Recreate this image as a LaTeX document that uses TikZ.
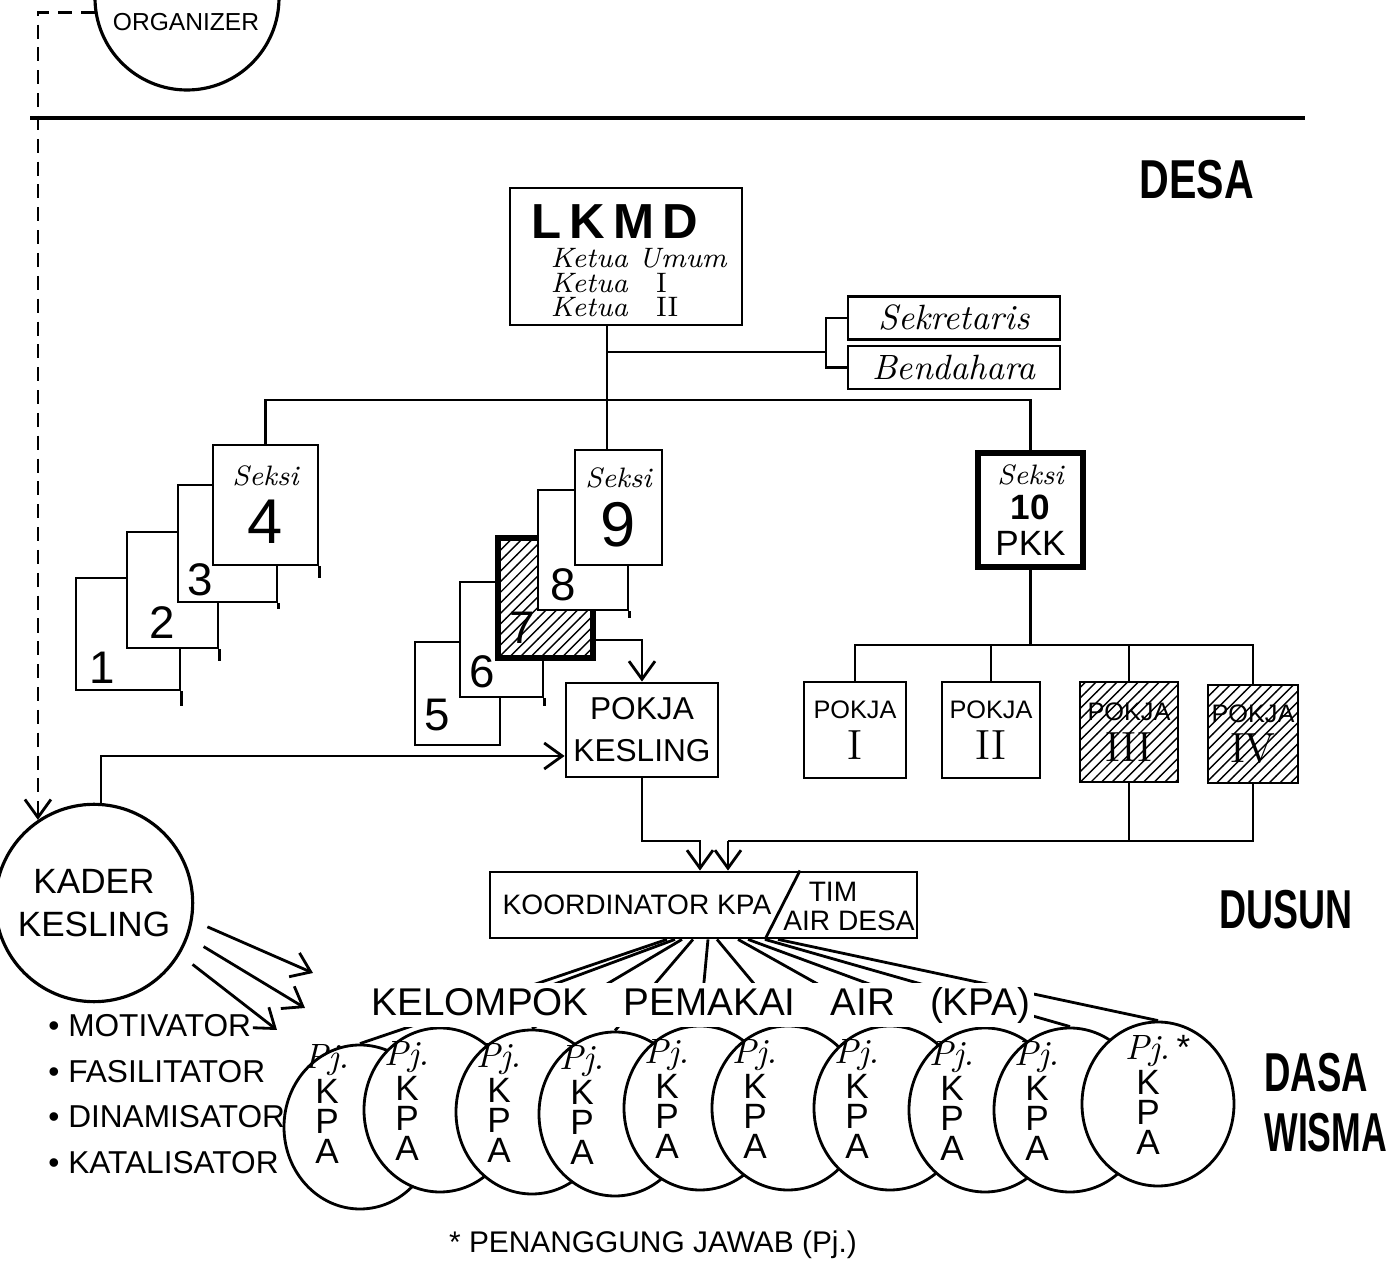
\documentclass[tikz,border=0pt]{standalone}
\usepackage{fontspec}
\setsansfont{Liberation Sans}
\usetikzlibrary{arrows.meta, positioning, shapes.geometric, patterns, calc}

\begin{document}
\begin{tikzpicture}[
    wire/.style={line width=0.8pt},
    flow/.style={wire, -{Straight Barb[length=1.8mm, width=2.6mm]}},
    box/.style={draw, line width=0.8pt, fill=white, align=center, inner sep=1pt, font=\sffamily\fontsize{7.2}{11.5}\selectfont},
    heavybox/.style={box, line width=1.6pt},
    hatchbox/.style={draw, line width=0.8pt, preaction={fill=white}, pattern=north east lines, align=center, inner sep=1pt, font=\sffamily\fontsize{7.2}{11.5}\selectfont},
    bubble/.style={circle, draw, line width=0.9pt, minimum size=1.84cm, align=center},
    kpacircle/.style={ellipse, draw, line width=0.8pt, fill=white, minimum width=1.52cm, minimum height=1.64cm},
    kpatext/.style={align=center, inner sep=0pt, font=\sffamily\fontsize{10}{8.5}\selectfont},
    digit/.style={inner sep=0pt, font=\sffamily\fontsize{13}{13}\selectfont},
    hand/.style={inner sep=0pt, font=\rmfamily\itshape\fontsize{8}{8}\selectfont},
    tag/.style={inner sep=0pt, font=\sffamily\fontsize{8}{8}\selectfont},
    level/.style={font=\sffamily\bfseries\fontsize{13}{13}\selectfont, align=left},
    caps/.style={font=\sffamily\fontsize{9}{13}\selectfont}
]
\useasboundingbox (0,0) rectangle (13.93,12.72);

\node[bubble] (org) at (1.87,12.74) {};
\node[tag, font=\sffamily\fontsize{7}{7}\selectfont] (orgname) at (1.86,12.50) {ORGANIZER};
\coordinate (divl) at (0.30,11.54);
\coordinate (divr) at (13.05,11.54);
\draw[line width=1.2pt] (divl) -- (divr);

\node[level] (desa) at (11.97,10.92) {\scalebox{0.9}[1.2]{DESA}};
\node[level] (dusun) at (12.86,3.62) {\scalebox{0.82}[1.2]{DUSUN}};
\node[level, anchor=west] (dasa) at (12.52,1.69) {\scalebox{0.8}[1.2]{DASA}\\[4pt]\scalebox{0.78}[1.2]{WISMA}};

\node[box, minimum width=2.32cm, minimum height=1.37cm] (lkmd) at (6.26,10.155) {};
\node[inner sep=0pt, font=\sffamily\bfseries\fontsize{14}{14}\selectfont] (lkmdname) at (6.15,10.50) {L\,K\,M\,D};
\node[hand, anchor=west] (ketum) at (5.50,10.14) {Ketua Umum};
\node[hand, anchor=west] (ketua1) at (5.50,9.89) {Ketua\quad\upshape I};
\node[hand, anchor=west] (ketua2) at (5.50,9.65) {Ketua\quad\upshape II};

\node[box, minimum width=2.12cm, minimum height=0.43cm, font=\rmfamily\itshape\fontsize{10}{10}\selectfont] (sekr) at (9.54,9.54) {Sekretaris};
\node[box, minimum width=2.12cm, minimum height=0.43cm, font=\rmfamily\itshape\fontsize{10}{10}\selectfont] (bend) at (9.54,9.045) {Bendahara};

\node[box, minimum width=1.04cm, minimum height=1.12cm] (sek1) at (1.28,6.38) {};
\node[box, minimum width=0.91cm, minimum height=1.16cm] (sek2) at (1.725,6.82) {};
\node[box, minimum width=0.99cm, minimum height=1.17cm] (sek3) at (2.275,7.285) {};
\node[box, minimum width=1.05cm, minimum height=1.20cm] (sek4) at (2.655,7.67) {{\rmfamily\itshape\fontsize{8}{9}\selectfont Seksi}\\[3pt]{\fontsize{18}{18}\selectfont 4}};

\node[box, minimum width=0.85cm, minimum height=1.03cm] (sek5) at (4.575,5.785) {};
\node[box, minimum width=0.83cm, minimum height=1.15cm] (sek6) at (5.015,6.325) {};
\node[hatchbox, line width=1.6pt, minimum width=0.95cm, minimum height=1.20cm] (sek7) at (5.455,6.74) {};
\node[box, minimum width=0.90cm, minimum height=1.20cm] (sek8) at (5.83,7.22) {};
\node[box, minimum width=0.87cm, minimum height=1.15cm] (sek9) at (6.185,7.645) {{\rmfamily\itshape\fontsize{8}{9}\selectfont Seksi}\\[3pt]{\fontsize{18}{18}\selectfont 9}};

\node[digit] (d1) at (1.02,6.04) {1};
\node[digit] (d2) at (1.62,6.49) {2};
\node[digit] (d3) at (2.00,6.92) {3};
\node[digit] (d5) at (4.37,5.57) {5};
\node[digit] (d6) at (4.82,6.00) {6};
\node[digit] (d7) at (5.22,6.44) {7};
\node[digit] (d8) at (5.63,6.87) {8};

\node[heavybox, minimum width=1.05cm, minimum height=1.14cm, font=\sffamily\fontsize{10}{10}\selectfont] (pkk) at (10.305,7.62) {{\rmfamily\itshape\fontsize{8}{9}\selectfont Seksi}\\{\bfseries 10}\\PKK};

\node[box, minimum width=1.52cm, minimum height=0.94cm, font=\sffamily\fontsize{9}{12}\selectfont] (kesling) at (6.42,5.42) {POKJA\\KESLING};

\node[box, minimum width=1.02cm, minimum height=0.96cm] (pokja1) at (8.55,5.42) {POKJA\\{\rmfamily\fontsize{12}{12}\selectfont I}};
\node[box, minimum width=0.98cm, minimum height=0.96cm] (pokja2) at (9.91,5.42) {POKJA\\{\rmfamily\fontsize{12}{12}\selectfont II}};
\node[hatchbox, minimum width=0.98cm, minimum height=1.00cm] (pokja3) at (11.29,5.40) {POKJA\\{\rmfamily\fontsize{12}{12}\selectfont III}};
\node[hatchbox, minimum width=0.90cm, minimum height=0.98cm] (pokja4) at (12.53,5.38) {POKJA\\{\rmfamily\fontsize{12}{12}\selectfont IV}};

\node[box, minimum width=4.27cm, minimum height=0.66cm] (koord) at (7.035,3.67) {};
\node[tag] (koordname) at (6.37,3.67) {KOORDINATOR KPA};
\node[tag] (tim) at (8.33,3.80) {TIM};
\node[tag] (airdesa) at (8.49,3.51) {AIR DESA};
\draw[wire] ([xshift=6.15mm]koord.south) -- ([xshift=9.65mm]koord.north);

\node[bubble, font=\sffamily\fontsize{10}{12}\selectfont] (kader) at (0.94,3.69) {KADER\\KESLING};
\node[caps, anchor=west, align=left] (roles) at (0.36,1.78) {\textbullet\ MOTIVATOR\\\textbullet\ FASILITATOR\\\textbullet\ DINAMISATOR\\\textbullet\ KATALISATOR};

\coordinate (stem) at (6.07,9.20);
\coordinate (brk) at (8.26,9.20);
\coordinate (mainbus) at (6.07,8.72);
\coordinate (pkkbus) at (10.305,6.27);
\coordinate (kin1) at (7.00,4.31);
\coordinate (kin2) at (7.28,4.31);
\coordinate (toa) at (3.13,2.99);
\coordinate (tob) at (3.05,2.64);
\coordinate (toc) at (2.77,2.42);

\draw[wire] (sekr.west) -| (brk) |- (bend.west);
\draw[wire] (stem) -- (brk);
\draw[wire] (lkmd.south -| stem) -- (sek9.north -| stem);
\draw[wire] (sek4.north) |- (mainbus) -- (pkk.north |- mainbus) -- (pkk.north);

\draw[wire] (sek1.south east) -- ++(0,-0.15);
\draw[wire] (sek2.south east) -- ++(0,-0.12);
\draw[wire] (sek3.south east) -- ++(0,-0.06);
\draw[wire] (sek4.south east) -- ++(0,-0.12);
\draw[wire] (sek6.south east) -- ++(0,-0.08);
\draw[wire] (sek8.south east) -- ++(0,-0.07);

\draw[flow] ([yshift=-4.2mm]sek7.east) -| (kesling.north);

\draw[wire] (pkk.south) -- (pkkbus);
\draw[wire] (pokja1.north) |- (pkkbus) -- (pokja4.north |- pkkbus) -- (pokja4.north);
\draw[wire] (pokja2.north) -- (pokja2.north |- pkkbus);
\draw[wire] (pokja3.north) -- (pokja3.north |- pkkbus);

\draw[flow] (kesling.south) |- (kin1) -- (kin1 |- koord.north);
\draw[wire] (pokja4.south) |- (kin2);
\draw[flow] (kin2) -- (kin2 |- koord.north);
\draw[wire] (pokja3.south) -- (pokja3.south |- kin2);

\draw[flow, dash pattern=on 4pt off 2.5pt] (org.189) -| (kader.124);
\draw[flow] (kader.86) |- ([yshift=-2.6mm]kesling.west);
\draw[flow, shorten <=1.6mm] (kader.-10) -- (toa);
\draw[flow, shorten <=1.8mm] (kader.-20) -- (tob);
\draw[flow, shorten <=1.6mm] (kader.-31) -- (toc);

\node[kpacircle] (kpa1) at (3.60,1.45) {};
\node[kpacircle] (kpa2) at (4.40,1.62) {};
\node[kpacircle] (kpa3) at (5.32,1.60) {};
\node[kpacircle] (kpa4) at (6.15,1.58) {};
\node[kpacircle] (kpa5) at (7.00,1.64) {};
\node[kpacircle] (kpa6) at (7.88,1.64) {};
\node[kpacircle] (kpa7) at (8.90,1.64) {};
\node[kpacircle] (kpa8) at (9.85,1.62) {};
\node[kpacircle] (kpa9) at (10.70,1.62) {};
\node[kpacircle] (kpa10) at (11.58,1.68) {};

\draw[wire] ([xshift=-3.65mm]koord.south) -- (kpa1.north);
\draw[wire] ([xshift=-2.85mm]koord.south) -- (kpa2.north);
\draw[wire] ([xshift=-2.15mm]koord.south) -- (kpa3.north);
\draw[wire] ([xshift=-1.05mm]koord.south) -- (kpa4.north);
\draw[wire] ([xshift=0.45mm]koord.south) -- (kpa5.north);
\draw[wire] ([xshift=1.35mm]koord.south) -- (kpa6.north);
\draw[wire] ([xshift=3.45mm]koord.south) -- (kpa7.north);
\draw[wire] ([xshift=4.45mm]koord.south) -- (kpa8.north);
\draw[wire] ([xshift=6.15mm]koord.south) -- (kpa9.north);
\draw[wire] ([xshift=7.45mm]koord.south) -- (kpa10.north);

\node[fill=white, inner sep=1pt, font=\sffamily\fontsize{11}{11}\selectfont] (kpaname) at (7.01,2.67) {KELOMPOK\hspace{3.5mm}PEMAKAI\hspace{3.5mm}AIR\hspace{3.5mm}(KPA)};

\node[kpatext] (pj1) at ([xshift=-3.3mm,yshift=2.3mm]kpa1.center) {{\rmfamily\itshape Pj.}\\K\\P\\A};
\node[kpatext] (pj2) at ([xshift=-3.3mm,yshift=0.9mm]kpa2.center) {{\rmfamily\itshape Pj.}\\K\\P\\A};
\node[kpatext] (pj3) at ([xshift=-3.3mm,yshift=0.9mm]kpa3.center) {{\rmfamily\itshape Pj.}\\K\\P\\A};
\node[kpatext] (pj4) at ([xshift=-3.3mm,yshift=0.9mm]kpa4.center) {{\rmfamily\itshape Pj.}\\K\\P\\A};
\node[kpatext] (pj5) at ([xshift=-3.3mm,yshift=0.9mm]kpa5.center) {{\rmfamily\itshape Pj.}\\K\\P\\A};
\node[kpatext] (pj6) at ([xshift=-3.3mm,yshift=0.9mm]kpa6.center) {{\rmfamily\itshape Pj.}\\K\\P\\A};
\node[kpatext] (pj7) at ([xshift=-3.3mm,yshift=0.9mm]kpa7.center) {{\rmfamily\itshape Pj.}\\K\\P\\A};
\node[kpatext] (pj8) at ([xshift=-3.3mm,yshift=0.9mm]kpa8.center) {{\rmfamily\itshape Pj.}\\K\\P\\A};
\node[kpatext] (pj9) at ([xshift=-3.3mm,yshift=0.9mm]kpa9.center) {{\rmfamily\itshape Pj.}\\K\\P\\A};
\node[kpatext] (pj10) at ([xshift=-1mm,yshift=0.9mm]kpa10.center) {{\rmfamily\itshape Pj.}\rlap{\,*}\\K\\P\\A};

\node[font=\sffamily\fontsize{8.5}{9}\selectfont] (note) at (6.53,0.27) {* PENANGGUNG JAWAB (Pj.)};
\end{tikzpicture}
\end{document}
